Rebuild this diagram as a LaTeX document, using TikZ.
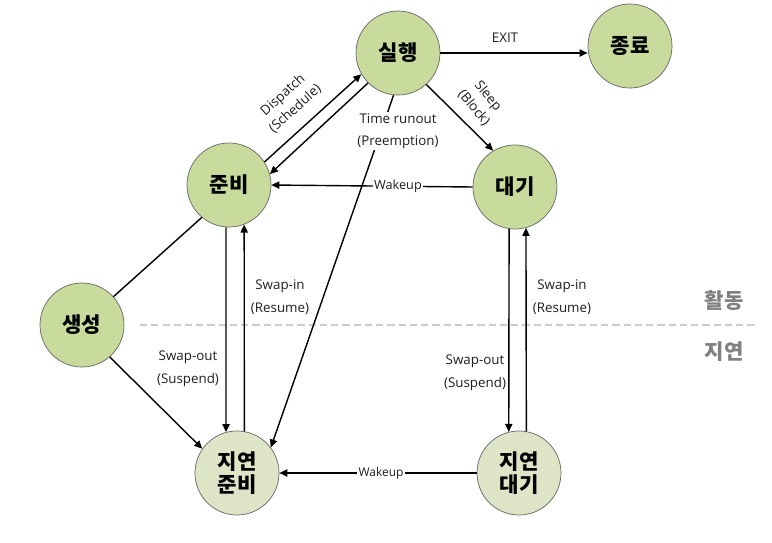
\documentclass[tikz,border=0pt]{standalone}
\usepackage{fontspec}
\setmainfont{Open Sans}
\newfontfamily\kor{Noto Sans CJK KR}
\usetikzlibrary{arrows.meta}
\definecolor{stategreen}{RGB}{201,218,157}
\definecolor{delaygreen}{RGB}{222,229,198}
\definecolor{labeltext}{RGB}{30,30,30}

\begin{document}
\begin{tikzpicture}[x=0.025cm, y=-0.025cm,
  state/.style={circle, draw=black!60, line width=0.5pt, fill=stategreen,
    minimum size=2.1cm, inner sep=0pt, align=center,
    font=\kor\bfseries\fontsize{15}{16}\selectfont},
  delayed/.style={state, fill=delaygreen},
  trans/.style={-{Triangle[length=2mm,width=1.8mm]}, line width=1pt},
  lbl/.style={align=center, text=labeltext, inner sep=1pt,
    font=\fontsize{9.5}{16}\selectfont},
  turned/.style={lbl, font=\fontsize{9.5}{13}\selectfont},
  zone/.style={text=black!50, font=\kor\bfseries\fontsize{15}{16}\selectfont}]
  \useasboundingbox (0,0) rectangle (772,542);

  % active / suspended border
  \coordinate (zl) at (140,325);
  \coordinate (zr) at (757,325);
  \draw[black!20, line width=1.4pt, dash pattern=on 5pt off 3pt] (zl) -- (zr);
  \node[zone] (active) at (724,301) {활동};
  \node[zone] (suspended) at (724,352) {지연};

  % states
  \node[state] (run) at (398,53) {실행};
  \node[state] (exit) at (630,46) {종료};
  \node[state] (ready) at (229,185) {준비};
  \node[state] (wait) at (515,187) {대기};
  \node[state] (new) at (82,325) {생성};
  \node[delayed] (sready) at (237,473) {지연\\준비};
  \node[delayed] (swait) at (519,473) {지연\\대기};

  % transitions
  \draw[trans] (run.east) -- (run.east -| exit.west);
  \draw[trans] (ready.33) -- (run.210);
  \draw[trans] (run.225) -- (ready.15);
  \draw[trans] (run.-48) -- (wait.121);
  \draw[trans] (wait.west) -- (ready.east);
  \draw[trans] (run.264) -- (sready.37);
  \draw[line width=1pt] (new.42) -- (ready.230);
  \draw[trans] (new.-49) -- (sready.145);
  \draw[trans] (ready.266) -- (sready.105);
  \draw[trans] (sready.80) -- (ready.291);
  \draw[trans] (wait.262) -- (swait.104);
  \draw[trans] (swait.80) -- (wait.285);
  \draw[trans] (swait.west) -- (sready.east);

  % labels
  \node[lbl] (exitlbl) at (505,38) {EXIT};
  \node[turned, rotate=42] (dispatch) at (289,102) {Dispatch\\(Schedule)};
  \node[turned, rotate=-50] (sleep) at (481,102) {Sleep\\(Block)};
  \node[lbl, fill=white] (timeout) at (398,131) {Time runout\\(Preemption)};
  \node[lbl, fill=white, font=\fontsize{9}{12}\selectfont] (wakeup) at (398,186) {Wakeup};
  \node[lbl, fill=white, font=\fontsize{8.5}{12}\selectfont] (swakeup) at (381,473) {Wakeup};
  \node[lbl] (swapin) at (280,297) {Swap-in\\(Resume)};
  \node[lbl] (swapout) at (188,369) {Swap-out\\(Suspend)};
  \node[lbl] (wswapin) at (562,297) {Swap-in\\(Resume)};
  \node[lbl] (wswapout) at (475,373) {Swap-out\\(Suspend)};
\end{tikzpicture}
\end{document}
